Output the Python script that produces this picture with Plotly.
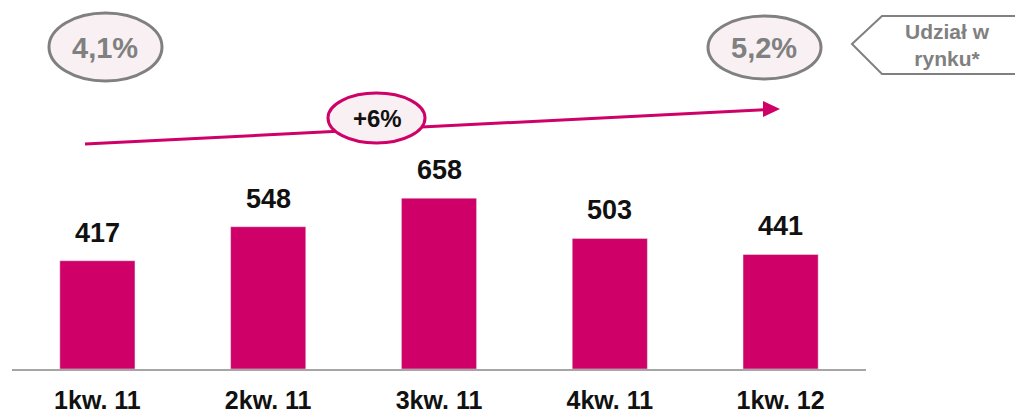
import plotly.graph_objects as go

categories = ["1kw. 11", "2kw. 11", "3kw. 11", "4kw. 11", "1kw. 12"]
values = [417, 548, 658, 503, 441]
share_start = "4,1%"
share_end = "5,2%"
growth_label = "+6%"
share_title = "Udział w<br>rynku*"

# page body has an 8px margin; layout is specified in screen pixels
OFF = 8
W, H = 1015, 405
PLOT_X0, PLOT_X1 = 12, 866     # screen px
PLOT_Y0, PLOT_Y1 = 20, 369     # screen px
L = PLOT_X0 - OFF
T = PLOT_Y0 - OFF
PW = PLOT_X1 - PLOT_X0
PH = PLOT_Y1 - PLOT_Y0
R = W - L - PW
B = H - T - PH

def px(x):
    return (x - PLOT_X0) / PW

def py(y):
    return (PLOT_Y1 - y) / PH

MAG = "#CF0067"
GRAY = "#808080"
PINK_FILL = "#F8F0F3"
FONT = "Liberation Sans"

fig = go.Figure()
fig.add_trace(go.Bar(x=categories, y=values, marker_color=MAG, width=0.44,
                     hoverinfo="skip"))

for c, v in zip(categories, values):
    fig.add_annotation(x=c, y=v, text=f"<b>{v}</b>", showarrow=False,
                       xanchor="center", yanchor="bottom", yshift=11,
                       font=dict(family=FONT, size=27, color="#111111"))

shapes = []
# trend arrow
shapes.append(dict(type="line", xref="paper", yref="paper",
                   x0=px(85), y0=py(144), x1=px(766), y1=py(109.7),
                   line=dict(color=MAG, width=3)))
shapes.append(dict(type="path", xref="paper", yref="paper",
                   path=f"M {px(763)} {py(101)} L {px(780)} {py(109)} L {px(763)} {py(117)} Z",
                   fillcolor=MAG, line=dict(color=MAG, width=0)))
# growth ellipse
shapes.append(dict(type="circle", xref="paper", yref="paper",
                   x0=px(328), x1=px(425), y0=py(93), y1=py(143),
                   fillcolor=PINK_FILL, line=dict(color=MAG, width=3)))
# share ellipses
shapes.append(dict(type="circle", xref="paper", yref="paper",
                   x0=px(49), x1=px(162), y0=py(13), y1=py(81),
                   fillcolor=PINK_FILL, line=dict(color=GRAY, width=3)))
shapes.append(dict(type="circle", xref="paper", yref="paper",
                   x0=px(708), x1=px(821), y0=py(16), y1=py(79),
                   fillcolor=PINK_FILL, line=dict(color=GRAY, width=3)))
# pentagon label
shapes.append(dict(type="path", xref="paper", yref="paper",
                   path=(f"M {px(852)} {py(44)} L {px(882)} {py(16)} L {px(1030)} {py(16)} "
                         f"L {px(1030)} {py(74)} L {px(882)} {py(74)} Z"),
                   fillcolor="white", line=dict(color=GRAY, width=2)))
fig.update_layout(shapes=shapes)

def label(x, y, text, size, color):
    fig.add_annotation(xref="paper", yref="paper", x=px(x), y=py(y),
                       xanchor="center", yanchor="middle",
                       text=text, showarrow=False,
                       font=dict(family=FONT, size=size, color=color))

label(105, 48, f"<b>{share_start}</b>", 29, GRAY)
label(764, 48, f"<b>{share_end}</b>", 29, GRAY)
label(377, 118, f"<b>{growth_label}</b>", 24, "#111111")
label(947, 45, f"<b>{share_title}</b>", 21, GRAY)

fig.update_layout(
    width=W, height=H,
    margin=dict(l=L, r=R, t=T, b=B, pad=0, autoexpand=False),
    plot_bgcolor="white", paper_bgcolor="white",
    showlegend=False,
    xaxis=dict(showline=True, linecolor="#A6A6A6", linewidth=1.5,
               showgrid=False, zeroline=False, ticks="",
               automargin=False,
               ticklabelstandoff=8,
               tickfont=dict(family=FONT, size=25, color="#111111"),
               tickprefix="<b>", ticksuffix="</b>",
               fixedrange=True),
    yaxis=dict(visible=False, range=[0, 1344], showgrid=False,
               zeroline=False, fixedrange=True, automargin=False),
)

fig.write_html("out.html", config={"displayModeBar": False})
